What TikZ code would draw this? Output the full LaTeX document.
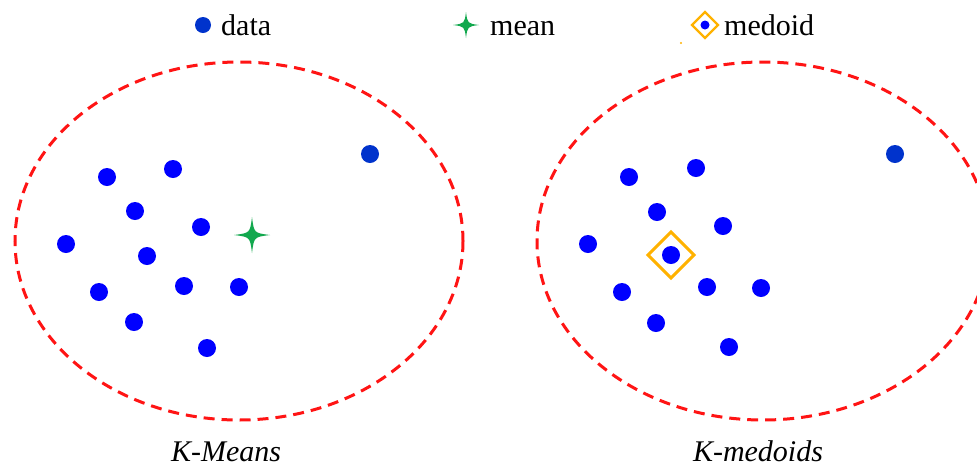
\documentclass[tikz,border=0pt]{standalone}
\usepackage{fontspec}
\setmainfont{Liberation Serif}
\definecolor{ptblue}{RGB}{0,0,255}
\definecolor{outblue}{RGB}{0,51,204}
\definecolor{meangreen}{RGB}{18,168,78}
\definecolor{medorange}{RGB}{255,178,0}
\definecolor{clred}{RGB}{255,20,20}
\tikzset{
  dot/.style={circle,fill=ptblue,inner sep=0pt,minimum size=18pt},
  outdot/.style={circle,fill=outblue,inner sep=0pt,minimum size=18pt},
  cluster/.style={draw=clred,line width=3pt,dash pattern=on 11pt off 7pt},
  lbl/.style={font=\fontsize{30}{36}\selectfont,inner sep=0pt},
  medbox/.style={draw=medorange,line width=3pt},
}
\begin{document}
\begin{tikzpicture}[x=1pt,y=-1pt]
\useasboundingbox (0,0) rectangle (977,467);
\clip (0,0) rectangle (977,467);
\fill[white] (0,0) rectangle (977,467);
% legend
\node[circle,fill=outblue,inner sep=0pt,minimum size=16pt] (legdot) at (203,25) {};
\node[lbl,anchor=base west] (legdata) at (221,35) {data};
\coordinate (legmean) at (466,25);
\fill[meangreen] (legmean) ++(0,-13) .. controls ++(1.5,11.5) .. ++(13,13)
  .. controls ++(-11.5,1.5) .. ++(-13,13) .. controls ++(-1.5,-11.5) .. ++(-13,-13)
  .. controls ++(11.5,-1.5) .. cycle;
\node[lbl,anchor=base west] (legmeantxt) at (490,35) {mean};
\coordinate (legmed) at (705,25);
\draw[medorange,line width=2.2pt] (legmed) ++(0,-13) -- ++(13,13) -- ++(-13,13) -- ++(-13,-13) -- cycle;
\node[circle,fill=ptblue,inner sep=0pt,minimum size=9pt] (legmeddot) at (legmed) {};
\node[lbl,anchor=base west] (legmedtxt) at (724,35) {medoid};
\fill[medorange] (681,43) circle (1.2pt);
% left cluster
\draw[cluster] (239,241) ellipse [x radius=224, y radius=179];
\node[dot] (a1) at (107,177) {};
\node[dot] (a2) at (173,169) {};
\node[dot] (a3) at (135,211) {};
\node[dot] (a4) at (201,227) {};
\node[dot] (a5) at (66,244) {};
\node[dot] (a6) at (147,256) {};
\node[dot] (a7) at (99,292) {};
\node[dot] (a8) at (184,286) {};
\node[dot] (a9) at (239,287) {};
\node[dot] (a10) at (134,322) {};
\node[dot] (a11) at (207,348) {};
\node[outdot] (a12) at (370,154) {};
\coordinate (mean) at (252,235);
\fill[meangreen] (mean) ++(0,-18) .. controls ++(2,16) .. ++(18,18)
  .. controls ++(-16,2) .. ++(-18,18) .. controls ++(-2,-16) .. ++(-18,-18)
  .. controls ++(16,-2) .. cycle;
\node[lbl,anchor=base] (kmeans) at (226,461) {\textit{K-Means}};
% right cluster
\draw[cluster] (763,241) ellipse [x radius=226, y radius=179];
\node[dot] (b1) at (629,177) {};
\node[dot] (b2) at (696,168) {};
\node[dot] (b3) at (657,212) {};
\node[dot] (b4) at (723,226) {};
\node[dot] (b5) at (588,244) {};
\node[dot] (b6) at (622,292) {};
\node[dot] (b7) at (707,287) {};
\node[dot] (b8) at (761,288) {};
\node[dot] (b9) at (656,323) {};
\node[dot] (b10) at (729,347) {};
\node[outdot] (b11) at (895,154) {};
\node[dot] (med) at (671,255) {};
\draw[medbox] (med) ++(0,-23) -- ++(23,23) -- ++(-23,23) -- ++(-23,-23) -- cycle;
\node[lbl,anchor=base] (kmedoids) at (758,461) {\textit{K-medoids}};
\end{tikzpicture}
\end{document}
